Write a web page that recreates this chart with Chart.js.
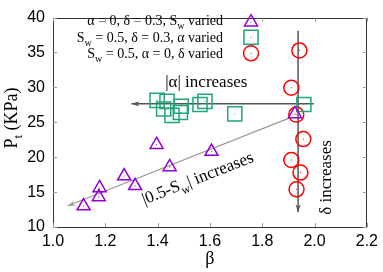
<!DOCTYPE html>
<html>
<head>
<meta charset="utf-8">
<script src="https://cdn.jsdelivr.net/npm/chart.js@4/dist/chart.umd.min.js"></script>
<style>
html,body{margin:0;padding:0;background:#fff;}
#wrap{width:383px;height:272px;position:relative;}
</style>
</head>
<body>
<div id="wrap"><canvas id="c"></canvas></div>
<script>
// ---- data ----
const triBeta = [1.117, 1.175, 1.178, 1.272, 1.314, 1.396, 1.446, 1.606, 1.925];
const triP    = [13.0, 14.3, 15.6, 17.3, 15.9, 21.8, 18.6, 20.8, 26.2];
const sqBeta  = [1.398, 1.436, 1.423, 1.455, 1.490, 1.487, 1.562, 1.581, 1.695, 1.959];
const sqP     = [28.15, 28.0, 26.9, 26.0, 27.3, 26.4, 27.55, 28.0, 26.2, 27.55];
const cirBeta = [1.942, 1.911, 1.930, 1.957, 1.911, 1.946, 1.931];
const cirP    = [35.3, 29.95, 26.1, 22.6, 19.6, 17.8, 15.4];
const xTicks  = [1.0, 1.2, 1.4, 1.6, 1.8, 2.0, 2.2];
const yTicks  = [10, 15, 20, 25, 30, 35, 40];
// arrows: from -> to (data coords)
const arrowFromBeta = [1.997, 1.937, 1.910];
const arrowFromP    = [27.65, 38.1, 25.7];
const arrowToBeta   = [1.300, 1.937, 1.055];
const arrowToP      = [27.65, 12.1, 13.0];
const legendLabels = [
  [["α = 0, δ = 0.3, S",0],["w",1],[" varied",0]],
  [["S",0],["w",1],[" = 0.5, δ = 0.3, α varied",0]],
  [["S",0],["w",1],[" = 0.5, α = 0, δ varied",0]]
];

const PURPLE = '#9400d3', GREEN = '#1fa67a', RED = '#ff0000';
const SERIF = '"Liberation Serif","DejaVu Serif",serif';
const SANS = '"Liberation Sans",Arial,sans-serif';

function pts(xs, ys){ return xs.map((x,i)=>({x:x, y:ys[i]})); }

const arrowColors = ['#555555','#555555','#9a9a9a'];
const arrowWidths = [1.5,1.5,1.2];
const arrowSets = arrowFromBeta.map((b,i)=>({
  label:'arrow'+i,
  data:[{x:b,y:arrowFromP[i]},{x:arrowToBeta[i],y:arrowToP[i]}],
  showLine:true, borderColor:arrowColors[i], borderWidth:arrowWidths[i],
  pointRadius:0, fill:false
}));

function richWidth(ctx, parts, size){
  let w=0;
  for(const [t,sub] of parts){ ctx.font = (sub? Math.round(size*0.7):size)+'px '+SERIF; w+=ctx.measureText(t).width; }
  return w;
}
function drawRich(ctx, parts, x, y, size, align){
  const w = richWidth(ctx, parts, size);
  let cx = align==='right'? x-w : align==='center'? x-w/2 : x;
  ctx.textBaseline='alphabetic'; ctx.textAlign='left';
  for(const [t,sub] of parts){
    const s = sub? Math.round(size*0.7):size;
    ctx.font = s+'px '+SERIF;
    ctx.fillText(t, cx, y + (sub? size*0.28:0));
    cx += ctx.measureText(t).width;
  }
}

const deco = {
  id:'deco',
  afterDatasetsDraw(chart){
    const ctx = chart.ctx, xs = chart.scales.x, ys = chart.scales.y, a = chart.chartArea;
    ctx.save();
    // arrowheads
    for(let i=0;i<arrowFromBeta.length;i++){
      const x0=xs.getPixelForValue(arrowFromBeta[i]), y0=ys.getPixelForValue(arrowFromP[i]);
      const x1=xs.getPixelForValue(arrowToBeta[i]), y1=ys.getPixelForValue(arrowToP[i]);
      const ang=Math.atan2(y1-y0,x1-x0), L=8, W=2.6;
      ctx.fillStyle=arrowColors[i];
      ctx.beginPath();
      ctx.moveTo(x1,y1);
      ctx.lineTo(x1-L*Math.cos(ang)+W*Math.sin(ang), y1-L*Math.sin(ang)-W*Math.cos(ang));
      ctx.lineTo(x1-L*0.7*Math.cos(ang), y1-L*0.7*Math.sin(ang));
      ctx.lineTo(x1-L*Math.cos(ang)-W*Math.sin(ang), y1-L*Math.sin(ang)+W*Math.cos(ang));
      ctx.closePath(); ctx.fill();
    }
    // center dots
    chart.data.datasets.forEach((ds,di)=>{
      if(!ds.dot) return;
      const meta = chart.getDatasetMeta(di);
      ctx.fillStyle = ds.borderColor;
      meta.data.forEach(p=>{ ctx.fillRect(p.x-0.5,p.y-0.5,1,1); });
    });
    // frame
    ctx.strokeStyle='#333'; ctx.lineWidth=1;
    ctx.strokeRect(Math.round(a.left)+0.5, Math.round(a.top)+0.5, Math.round(a.right-a.left)-1, Math.round(a.bottom-a.top));
    // inward ticks
    ctx.strokeStyle='#999';
    ctx.beginPath();
    xTicks.forEach(v=>{ const px=Math.round(xs.getPixelForValue(v))+0.5;
      ctx.moveTo(px,a.bottom); ctx.lineTo(px,a.bottom-4); ctx.moveTo(px,a.top); ctx.lineTo(px,a.top+4); });
    yTicks.forEach(v=>{ const py=Math.round(ys.getPixelForValue(v))+0.5;
      ctx.moveTo(a.left,py); ctx.lineTo(a.left+4,py); ctx.moveTo(a.right,py); ctx.lineTo(a.right-4,py); });
    ctx.stroke();
    // annotations
    ctx.fillStyle='#000';
    drawRich(ctx, [["|α| increases",0]], xs.getPixelForValue(1.586), ys.getPixelForValue(30.05), 17, 'center');
    // delta increases (vertical)
    ctx.save();
    ctx.translate(xs.getPixelForValue(2.062), ys.getPixelForValue(17.1));
    ctx.rotate(-Math.PI/2);
    drawRich(ctx, [["δ increases",0]], 0, 0, 17, 'center');
    ctx.restore();
    // diagonal
    ctx.save();
    ctx.translate(xs.getPixelForValue(1.56), ys.getPixelForValue(16.3));
    ctx.rotate(-21.5*Math.PI/180);
    drawRich(ctx, [["|0.5-S",0],["w",1],["| increases",0]], 0, 0, 17, 'center');
    ctx.restore();
    // legend
    const rowsY=[20.7,37.3,53.3];
    const styles=[['triangle',PURPLE,7.5],['rect',GREEN,10],['circle',RED,7.5]];
    legendLabels.forEach((parts,i)=>{
      ctx.fillStyle='#000';
      drawRich(ctx, parts, 223, rowsY[i]+4.5, 14, 'right');
      const my = rowsY[i]+(i===0?1.5:0);
      ctx.strokeStyle=styles[i][1]; ctx.lineWidth=1.5; ctx.fillStyle='rgba(0,0,0,0)';
      Chart.helpers.drawPoint(ctx,{pointStyle:styles[i][0],radius:styles[i][2],borderWidth:1.5,rotation:0},251,my);
      ctx.fillStyle=styles[i][1]; ctx.fillRect(250.5,my-0.5,1,1);
    });
    // axis titles
    ctx.fillStyle='#000';
    ctx.save();
    ctx.translate(17, 118);
    ctx.rotate(-Math.PI/2);
    drawRich(ctx, [["P",0],["t",1],[" (KPa)",0]], 0, 0, 18, 'center');
    ctx.restore();
    drawRich(ctx, [["β",0]], (a.left+a.right)/2, 264, 18, 'center');
    ctx.restore();
  }
};

new Chart(document.getElementById('c'), {
  type:'scatter',
  data:{ datasets:[
    {label:'tri', data:pts(triBeta,triP), pointStyle:'triangle', pointRadius:7.5, pointBorderWidth:1.5,
     borderColor:PURPLE, backgroundColor:'rgba(0,0,0,0)', pointBackgroundColor:'rgba(0,0,0,0)', dot:true},
    {label:'sq', data:pts(sqBeta,sqP), pointStyle:'rect', pointRadius:10, pointBorderWidth:1.5,
     borderColor:GREEN, backgroundColor:'rgba(0,0,0,0)', pointBackgroundColor:'rgba(0,0,0,0)', dot:true},
    {label:'cir', data:pts(cirBeta,cirP), pointStyle:'circle', pointRadius:7.5, pointBorderWidth:1.5,
     borderColor:RED, backgroundColor:'rgba(0,0,0,0)', pointBackgroundColor:'rgba(0,0,0,0)', dot:true},
    ...arrowSets
  ]},
  options:{
    responsive:true, maintainAspectRatio:false, animation:false,
    layout:{padding:{left:0,top:10,right:13,bottom:0}},
    plugins:{legend:{display:false}, tooltip:{enabled:false}},
    elements:{point:{hoverRadius:7.5}},
    scales:{
      x:{type:'linear', min:1.0, max:2.2,
        afterBuildTicks:s=>{ s.ticks = xTicks.map(v=>({value:v})); },
        afterFit:s=>{ s.height=45; },
        grid:{display:false, drawTicks:false}, border:{display:false},
        ticks:{padding:5, color:'#000', font:{family:SANS,size:16}, callback:v=>Number(v).toFixed(1), maxRotation:0, autoSkip:false}},
      y:{type:'linear', min:10, max:40,
        afterBuildTicks:s=>{ s.ticks = yTicks.map(v=>({value:v})); },
        afterFit:s=>{ s.width=53; },
        grid:{display:false, drawTicks:false}, border:{display:false},
        ticks:{padding:8, color:'#000', font:{family:SANS,size:16}, callback:v=>String(v), autoSkip:false}}
    }
  },
  plugins:[deco]
});
</script>
</body>
</html>
